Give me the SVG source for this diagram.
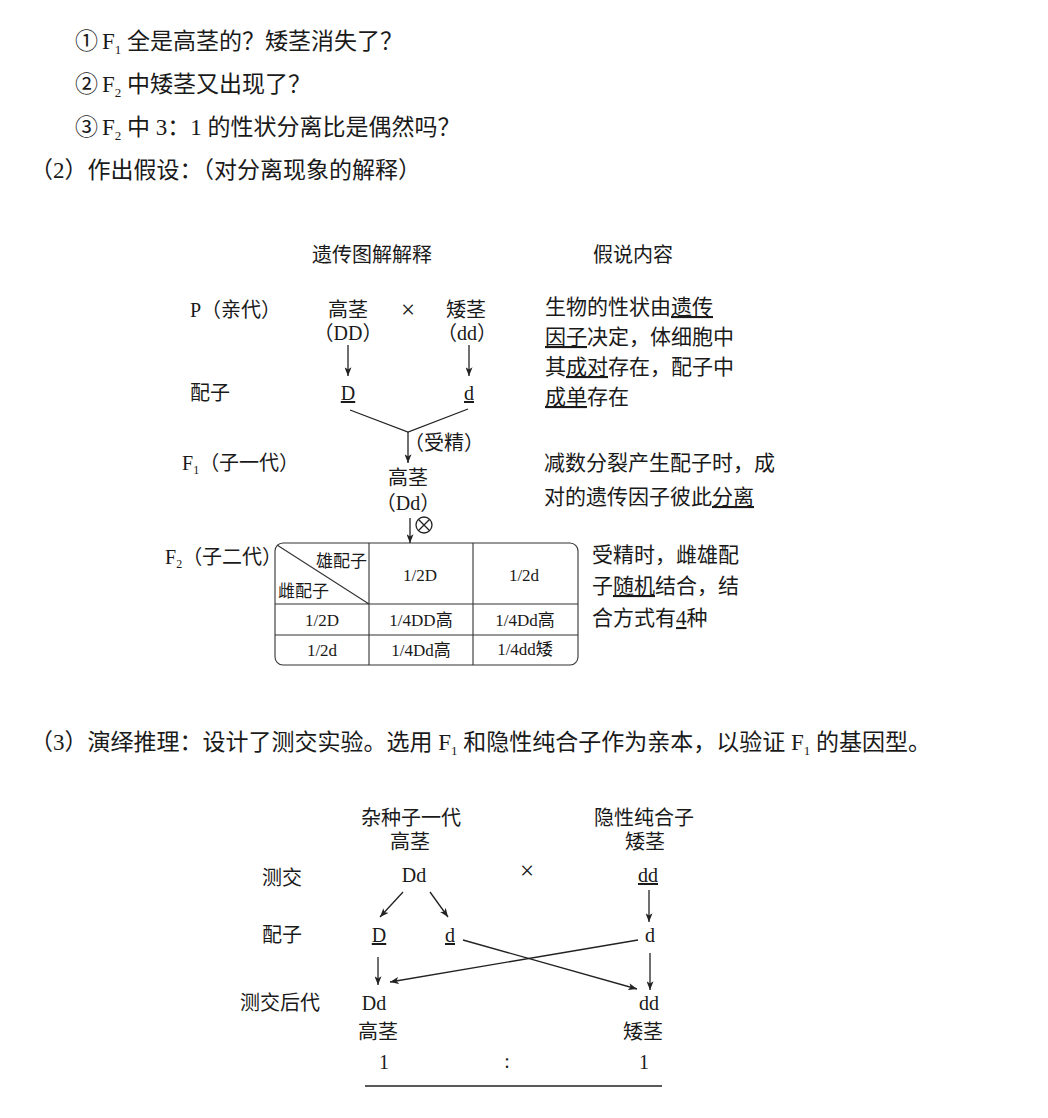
<svg xmlns="http://www.w3.org/2000/svg" width="1048" height="1118" viewBox="0 0 1048 1118">
<defs>
<style>
text{font-family:"Liberation Serif","Noto Sans CJK SC",serif;fill:#1a1a1a}
.b{font-size:23px}
.d{font-size:20px}
.r{font-size:21px}
.t{font-size:17px}
.x{font-size:25px}
.m{text-anchor:middle}
.u{text-decoration:underline}
.ln{stroke:#222;stroke-width:1.3;fill:none}
.tb{stroke:#333;stroke-width:1.1;fill:none}
.ar{marker-end:url(#ah)}
</style>
<marker id="ah" viewBox="0 0 10 8" refX="10" refY="4" markerWidth="9" markerHeight="7" orient="auto" markerUnits="userSpaceOnUse">
<path d="M0,0 L10,4 L0,8 L2.5,4 z" fill="#222"/>
</marker>
</defs>
<rect width="1048" height="1118" fill="#fff"/>

<g id="intro">
<text class="b" x="75" y="49">①<tspan dx="4">F</tspan><tspan font-size="13" dy="5">1</tspan><tspan dy="-5"> 全是高茎的？矮茎消失了？</tspan></text>
<text class="b" x="75" y="92">②<tspan dx="4">F</tspan><tspan font-size="13" dy="5">2</tspan><tspan dy="-5"> 中矮茎又出现了？</tspan></text>
<text class="b" x="75" y="135">③<tspan dx="4">F</tspan><tspan font-size="13" dy="5">2</tspan><tspan dy="-5"> 中 3：1 的性状分离比是偶然吗？</tspan></text>
<text class="b" x="30" y="178">（2）作出假设：（对分离现象的解释）</text>
</g>

<g id="heading-left"><text class="d m" x="372" y="262">遗传图解解释</text></g>
<g id="heading-right"><text class="d m" x="633" y="262">假说内容</text></g>

<g id="row-labels-1">
<text class="d" x="190" y="317">P（亲代）</text>
<text class="d" x="190" y="400">配子</text>
<text class="d" x="182" y="470">F<tspan font-size="12" dy="4">1</tspan><tspan dy="-4">（子一代）</tspan></text>
<text class="d" x="165" y="564">F<tspan font-size="12" dy="4">2</tspan><tspan dy="-4">（子二代）</tspan></text>
</g>

<g id="p-tall">
<text class="d m" x="348" y="317">高茎</text>
<text class="d m" x="348" y="340">（DD）</text>
</g>
<g id="cross-1"><text class="x m" x="408" y="318">×</text></g>
<g id="p-dwarf">
<text class="d m" x="466" y="317">矮茎</text>
<text class="d m" x="467" y="340">（dd）</text>
</g>
<g id="gamete-D"><text class="d m u" x="348" y="400">D</text></g>
<g id="gamete-d"><text class="d m u" x="469" y="400">d</text></g>
<g id="fert-label"><text class="d" x="404" y="450">（受精）</text></g>
<g id="f1">
<text class="d m" x="408" y="485">高茎</text>
<text class="d m" x="408" y="510">（Dd）</text>
</g>
<g id="selfing"><circle cx="424" cy="525" r="8" class="ln"/><path d="M418.3,519.3 L429.7,530.7 M429.7,519.3 L418.3,530.7" class="ln"/></g>

<g id="punnett">
<rect x="275" y="543" width="303" height="122" rx="8" class="tb"/>
<path d="M369,543 V665 M473,543 V665 M275,604 H578 M275,635 H578 M277,545 L369,604" class="tb"/>
<text class="t" x="316" y="567">雄配子</text>
<text class="t" x="278" y="597">雌配子</text>
<text class="t m" x="420" y="581">1/2D</text>
<text class="t m" x="524" y="581">1/2d</text>
<text class="t m" x="322" y="626">1/2D</text>
<text class="t m" x="421" y="626">1/4DD高</text>
<text class="t m" x="525" y="626">1/4Dd高</text>
<text class="t m" x="322" y="656">1/2d</text>
<text class="t m" x="421" y="656">1/4Dd高</text>
<text class="t m" x="525" y="655">1/4dd矮</text>
</g>

<g id="hyp-1">
<text class="r" x="545" y="314">生物的性状由<tspan class="u">遗传</tspan></text>
<text class="r" x="545" y="344"><tspan class="u">因子</tspan>决定，体细胞中</text>
<text class="r" x="545" y="374">其<tspan class="u">成对</tspan>存在，配子中</text>
<text class="r" x="545" y="404"><tspan class="u">成单</tspan>存在</text>
</g>
<g id="hyp-2">
<text class="r" x="544" y="470">减数分裂产生配子时，成</text>
<text class="r" x="544" y="504">对的遗传因子彼此<tspan class="u">分离</tspan></text>
</g>
<g id="hyp-3">
<text class="r" x="592" y="562">受精时，雌雄配</text>
<text class="r" x="592" y="593">子<tspan class="u">随机</tspan>结合，结</text>
<text class="r" x="592" y="625">合方式有<tspan class="u">4</tspan>种</text>
</g>

<g id="section3">
<text class="b" x="30" y="750">（3）演绎推理：设计了测交实验。选用 F<tspan font-size="13" dy="5">1</tspan><tspan dy="-5"> 和隐性纯合子作为亲本，以验证 F</tspan><tspan font-size="13" dy="5">1</tspan><tspan dy="-5"> 的基因型。</tspan></text>
</g>

<g id="row-labels-2">
<text class="d" x="262" y="885">测交</text>
<text class="d" x="262" y="942">配子</text>
<text class="d" x="240" y="1010">测交后代</text>
</g>
<g id="hybrid">
<text class="d m" x="411" y="825">杂种子一代</text>
<text class="d m" x="410" y="849">高茎</text>
<text class="d m" x="414" y="882">Dd</text>
</g>
<g id="cross-2"><text class="x m" x="527" y="879">×</text></g>
<g id="recessive">
<text class="d m" x="644" y="825">隐性纯合子</text>
<text class="d m" x="645" y="849">矮茎</text>
<text class="d m u" x="648" y="882">dd</text>
</g>
<g id="tc-gamete-D"><text class="d m u" x="379" y="942">D</text></g>
<g id="tc-gamete-d1"><text class="d m u" x="450" y="942">d</text></g>
<g id="tc-gamete-d2"><text class="d m" x="650" y="942">d</text></g>
<g id="offspring-Dd">
<text class="d m" x="374" y="1010">Dd</text>
<text class="d m" x="378" y="1039">高茎</text>
<text class="d m" x="384" y="1069">1</text>
</g>
<g id="ratio"><text class="d m" x="507" y="1068">:</text></g>
<g id="offspring-dd">
<text class="d m" x="649" y="1010">dd</text>
<text class="d m" x="643" y="1039">矮茎</text>
<text class="d m" x="644" y="1069">1</text>
</g>
<g id="rule"><path d="M365,1086 H662" stroke="#222" stroke-width="1.6"/></g>

<g id="connectors">
<path class="ln ar" d="M348,345 V376"/>
<path class="ln ar" d="M469,345 V376"/>
<path class="ln" d="M350,410 L408,432 L468,409"/>
<path class="ln ar" d="M408,432 V463"/>
<path class="ln ar" d="M410,518 V543"/>
<path class="ln ar" d="M403,892 L380,917"/>
<path class="ln ar" d="M430,892 L448,917"/>
<path class="ln ar" d="M649,890 V922"/>
<path class="ln ar" d="M378,957 V985"/>
<path class="ln ar" d="M650,953 V990"/>
<path class="ln ar" d="M638,940 L390,982"/>
<path class="ln ar" d="M463,940 L637,989"/>
</g>
</svg>
